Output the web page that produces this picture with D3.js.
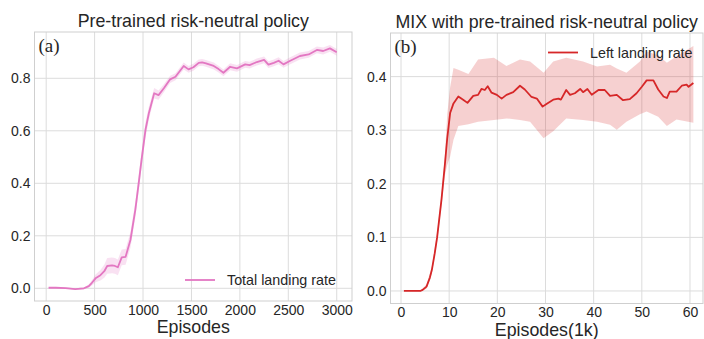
<!DOCTYPE html>
<html><head><meta charset="utf-8">
<script src="https://cdn.jsdelivr.net/npm/d3@7"></script>
<style>
html,body{margin:0;padding:0;background:#fff;}
svg{display:block;}
text{font-family:"Liberation Sans",Arial,sans-serif;fill:#262626;}
</style></head>
<body>
<svg id="chart" width="704" height="339"></svg>
<script>
// ---------- Panel (a) data ----------
const leftEpisodes = [25,100,200,300,390,440,470,510,560,600,630,680,710,740,780,820,870,920,955,985,1025,1060,1115,1160,1215,1280,1335,1420,1470,1520,1575,1610,1650,1730,1780,1830,1900,1970,2055,2100,2175,2250,2295,2350,2400,2450,2520,2620,2710,2795,2860,2930,3000];
const leftRate = [0.002,0.002,0.001,-0.003,0.0,0.008,0.02,0.038,0.05,0.065,0.085,0.087,0.085,0.08,0.118,0.12,0.184,0.298,0.40,0.49,0.603,0.667,0.743,0.736,0.762,0.796,0.806,0.847,0.834,0.842,0.859,0.861,0.857,0.847,0.835,0.821,0.844,0.838,0.853,0.850,0.862,0.870,0.852,0.859,0.867,0.853,0.867,0.885,0.891,0.908,0.904,0.914,0.899];
const leftSpread = [0.002,0.002,0.002,0.003,0.004,0.006,0.01,0.015,0.02,0.025,0.03,0.03,0.03,0.03,0.03,0.03,0.03,0.03,0.03,0.03,0.03,0.025,0.02,0.018,0.015,0.014,0.013,0.013,0.013,0.013,0.013,0.013,0.013,0.013,0.013,0.013,0.013,0.013,0.013,0.013,0.013,0.013,0.013,0.013,0.013,0.013,0.013,0.013,0.013,0.013,0.013,0.013,0.013];
const leftXTicks = [0,500,1000,1500,2000,2500,3000];
const leftYTicks = [0.0,0.2,0.4,0.6,0.8];

// ---------- Panel (b) data ----------
const rightK = [0.6,2,4,4.5,5.3,6.0,6.4,7.0,7.5,8.4,9.1,9.6,10.2,10.9,11.9,12.9,13.8,15.0,16.0,16.7,17.4,18.0,18.8,19.9,20.9,21.9,23.3,24.7,25.7,27.1,28.2,29.4,30.2,31.6,32.7,33.2,34.3,35.1,36.1,37.2,37.8,38.7,39.6,41.0,42.3,43.4,44.8,46.1,47.5,48.9,50.0,51.0,52.4,53.4,54.5,55.2,55.8,57.2,58.3,59.3,59.7,60.7];
const rightRate = [0,0,0,0.002,0.008,0.025,0.039,0.07,0.10,0.17,0.235,0.285,0.332,0.35,0.363,0.357,0.351,0.364,0.366,0.377,0.375,0.382,0.370,0.366,0.359,0.366,0.371,0.383,0.376,0.362,0.359,0.344,0.349,0.357,0.359,0.357,0.375,0.366,0.369,0.377,0.371,0.377,0.366,0.375,0.375,0.364,0.366,0.356,0.358,0.369,0.381,0.393,0.393,0.376,0.363,0.360,0.372,0.372,0.383,0.385,0.381,0.388];
const bandK = [0.6,4,5.3,6.4,7.5,8.4,9.1,9.6,10.2,10.9,11.9,14,16,19.3,21.9,24.7,26.8,29.6,31.6,34.3,37.8,40.7,43.4,44.8,46.8,49.6,51.0,53.4,55.2,57.2,60.7];
const bandHigh = [0.0,0.001,0.012,0.045,0.108,0.18,0.25,0.33,0.38,0.416,0.413,0.405,0.432,0.435,0.42,0.432,0.428,0.407,0.428,0.435,0.428,0.419,0.422,0.415,0.407,0.428,0.447,0.44,0.426,0.438,0.457];
const bandLow = [0.0,-0.001,0.004,0.033,0.092,0.16,0.215,0.235,0.251,0.282,0.308,0.311,0.316,0.319,0.322,0.319,0.316,0.285,0.298,0.322,0.319,0.316,0.310,0.301,0.316,0.330,0.335,0.325,0.308,0.32,0.314];
const rightXTicks = [0,10,20,30,40,50,60];
const rightYTicks = [0.0,0.1,0.2,0.3,0.4];

const svg = d3.select("#chart");
const GRID = "#dcdcdc", SPINE = "#cfcfcf";

function panel(o){
  const g = svg.append("g");
  const x = d3.scaleLinear().domain(o.xDomain).range([o.left, o.right]);
  const y = d3.scaleLinear().domain(o.yDomain).range([o.bottom, o.top]);
  g.append("g").selectAll("line").data(o.xTicks).join("line")
    .attr("x1", d=>x(d)).attr("x2", d=>x(d)).attr("y1", o.top).attr("y2", o.bottom)
    .attr("stroke", GRID).attr("stroke-width", 1);
  g.append("g").selectAll("line").data(o.yTicks).join("line")
    .attr("y1", d=>y(d)).attr("y2", d=>y(d)).attr("x1", o.left).attr("x2", o.right)
    .attr("stroke", GRID).attr("stroke-width", 1);
  const area = d3.area().x(d=>x(d.x)).y0(d=>y(d.lo)).y1(d=>y(d.hi));
  g.append("path").datum(o.band).attr("d", area)
    .attr("fill", o.color).attr("fill-opacity", 0.22).attr("stroke","none");
  const line = d3.line().x(d=>x(d.x)).y(d=>y(d.y));
  g.append("path").datum(o.series).attr("d", line)
    .attr("fill","none").attr("stroke", o.color).attr("stroke-width", 1.8)
    .attr("stroke-linejoin","round");
  g.append("rect").attr("x", o.left).attr("y", o.top)
    .attr("width", o.right-o.left).attr("height", o.bottom-o.top)
    .attr("fill","none").attr("stroke", SPINE).attr("stroke-width", 1);
  const xa = g.append("g").attr("transform", `translate(0,${o.bottom})`)
    .call(d3.axisBottom(x).tickValues(o.xTicks).tickSize(0).tickPadding(4).tickFormat(o.xFmt));
  const ya = g.append("g").attr("transform", `translate(${o.left},0)`)
    .call(d3.axisLeft(y).tickValues(o.yTicks).tickSize(0).tickPadding(4).tickFormat(d3.format(".1f")));
  [xa, ya].forEach(a => {
    a.select(".domain").remove();
    a.selectAll("text").style("font-size","14px").attr("fill","#262626")
      .style("font-family",'"Liberation Sans",Arial,sans-serif');
  });
  g.append("text").attr("x", (o.left+o.right)/2).attr("y", o.titleY)
    .attr("text-anchor","middle").style("font-size","17.8px").text(o.title);
  g.append("text").attr("x", (o.left+o.right)/2).attr("y", o.xLabelY)
    .attr("text-anchor","middle").style("font-size","17.8px").text(o.xLabel);
  g.append("text").attr("x", o.left+4).attr("y", o.top+20)
    .style("font-family",'"Liberation Serif","DejaVu Serif",serif').style("font-size","19px").text(o.tag);
  g.append("line").attr("x1", o.legX).attr("x2", o.legX+30).attr("y1", o.legY).attr("y2", o.legY)
    .attr("stroke", o.color).attr("stroke-width", 1.8);
  g.append("text").attr("x", o.legX+42).attr("y", o.legY+5)
    .style("font-size","14.3px").text(o.legend);
}

panel({
  left:34.5, right:352, top:32, bottom:301,
  xDomain:[-120.6, 3157.7], yDomain:[-0.0484, 0.9764],
  xTicks:leftXTicks, yTicks:leftYTicks, xFmt:d3.format("d"),
  series:leftEpisodes.map((e,i)=>({x:e, y:leftRate[i]})),
  band:leftEpisodes.map((e,i)=>({x:e, lo:leftRate[i]-leftSpread[i], hi:leftRate[i]+leftSpread[i]})),
  color:"#e377c2", title:"Pre-trained risk-neutral policy", titleY:26.5,
  xLabel:"Episodes", xLabelY:333, tag:"(a)",
  legend:"Total landing rate", legX:185, legY:280
});

panel({
  left:390.5, right:703, top:33, bottom:303.5,
  xDomain:[-2.18, 62.7], yDomain:[-0.0234, 0.4814],
  xTicks:rightXTicks, yTicks:rightYTicks, xFmt:d3.format("d"),
  series:rightK.map((k,i)=>({x:k, y:rightRate[i]})),
  band:bandK.map((k,i)=>({x:k, lo:bandLow[i], hi:bandHigh[i]})),
  color:"#d62728", title:"MIX with pre-trained risk-neutral policy", titleY:28,
  xLabel:"Episodes(1k)", xLabelY:335.5, tag:"(b)",
  legend:"Left landing rate", legX:548, legY:52.5
});
</script>
</body></html>
